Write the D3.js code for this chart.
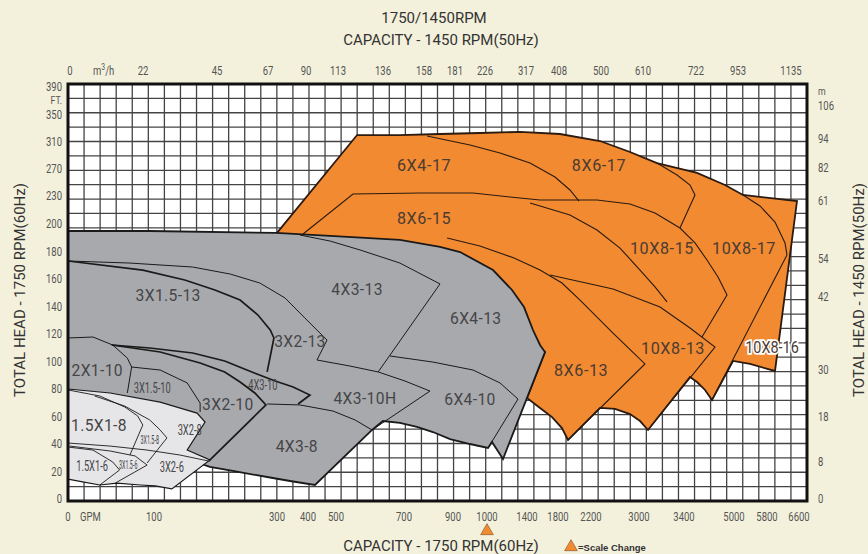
<!DOCTYPE html>
<html>
<head>
<meta charset="utf-8">
<script src="https://cdn.jsdelivr.net/npm/d3@7.9.0/dist/d3.min.js"></script>
<style>
  body { margin: 0; background: #f3f1dc; }
  text { font-family: Roboto, "Open Sans", sans-serif; }
</style>
</head>
<body>
<svg id="chart" width="868" height="554"></svg>
<script>
// ---- axis ticks ----
const gpmTicks = [0, 100, 300, 400, 500, 700, 900, 1000, 1400, 1800, 2200, 3000, 3400, 5000, 5800, 6600];
const m3hTicks = [0, 22, 45, 67, 90, 113, 136, 158, 181, 226, 317, 408, 500, 610, 722, 953, 1135];
const ftTicks = [0, 20, 40, 60, 80, 100, 120, 140, 160, 180, 200, 230, 270, 310, 350, 390];
const mTicks = [0, 8, 18, 30, 42, 54, 61, 82, 94, 106];

// ---- coverage areas, [gpm, ft] ----
const orangeArea = [[300,193.5],[562,319.5],[688,319.5],[847,321],[979,322.5],[1330,324],[1824,321],[2350,310.7],[2850,294.6],[3160,278.4],[3816,263.8],[4712,246.1],[5218,231.5],[6550,224.6],[6000,93.1],[5388,98.2],[4968,100.4],[4296,72],[4072,79.3],[3816,85.1],[3592,88.7],[3080,50.2],[3009,56.7],[2850,61.8],[2600,65.5],[2350,66.2],[1921,42.9],[1848,51.6],[1723,59.6],[1568,66.2],[1400,73.5],[1632,106.9],[1330,122.9],[979,159.3],[688,181.1],[374,184.7]];

const grayArea = [[0,194.9],[95,194.9],[298,193.5],[479,191.3],[688,188.4],[847,183.3],[921,179.6],[1060,166.5],[1250,152],[1370,139.6],[1477,122.9],[1568,112],[1632,106.9],[1160,29.1],[1050,41.5],[1010,37.1],[950,40],[888,43.6],[818,48.7],[753,52.4],[688,55.3],[638,56.7],[606,50.2],[425,10.2],[342,13.1],[284,16],[228,20.4],[191,23.3],[167,26.9],[134,32],[150,50.2],[0,72]];

const lightArea = [[0,80],[49,77.1],[110,70.5],[170,62.5],[183,56],[154,35.6],[191,28.4],[129,7.3],[102,9.5],[84,10.2],[57,11.6],[37,10.2],[17,12.4],[0,14.5]];

// ---- boundary lines between pumps, [gpm, ft] ----
const orangeLines = [
  [[794,318.1],[950,304.9],[1130,293.1],[1439,278.4],[1761,257.9],[1945,238.8],[2055,224.6]],
  [[384,192.7],[550,232.9],[765,234.4],[959,234.4],[1230,228.9],[1568,225.7],[2300,225.7],[2850,221.4],[3142,211.8],[3364,197.1],[3752,186.2],[4136,173.8],[4488,161.5],[4776,148.4],[3976,117.8]],
  [[3160,278.4],[3338,260.8],[3592,246.1],[3752,231.5],[3364,197.1]],
  [[5218,231.5],[5630,219.3],[6000,202.1],[6250,186.2],[6300,177.5],[4296,72]],
  [[876,189.8],[979,184],[1270,175.3],[1568,166.5],[1848,157.1],[2067,144.7],[2567,120.7],[3053,98.2],[1921,42.9]],
  [[1439,222.5],[1945,209.6],[2300,195.6],[2683,182.5],[3009,166.5],[3142,154.2],[3249,143.3]],
  [[1697,162.9],[2567,152.7],[3187,139.6],[3592,124.4],[4392,110.5],[3080,50.2]]
];

const grayLines = [
  [[0,173.1],[72,171.6],[163,168.7],[224,163.6],[272,157.1],[326,146.2],[390,131.6],[468,115.6],[432,101.1]],
  [[374,192],[479,187.6],[571,181.1],[688,171.6],[847,156.4],[624,92.4]],
  [[659,104],[818,99.6],[959,93.8],[1130,84.4],[1310,72.7],[1010,37.1]],
  [[432,101.1],[541,96.7],[624,92.4],[704,85.8],[806,78.5],[606,50.2]],
  [[284,69.1],[374,68.4],[489,64],[556,57.5],[606,50.2]],
  [[0,117.1],[29,117.8],[52,112],[69,102.5],[74,96],[69,77.1]],
  [[74,96],[110,93.8],[154,84.4],[175,69.8],[175,63.3]]
];
const grayLinesBold = [
  [[0,173.1],[87,166.5],[150,159.3],[199,152],[240,144.7],[269,133.8],[289,122.9],[295,117.1],[284,92.4]],
  [[51,112],[95,109.8],[163,106.2],[215,100.4],[251,93.8],[297,85.8],[352,81.5],[407,75.6],[368,69.1]],
  [[51,112],[110,106.9],[175,98.9],[215,92.4],[240,85.1],[264,77.1],[282,68.4],[189,27.6]]
];

const lightLines = [
  [[0,79.3],[37,74.9],[66,66.9],[81,60.4],[87,53.8],[72,32]],
  [[31,74.9],[66,67.6],[95,57.5],[110,50.2],[121,44.4],[92,26.2]],
  [[0,40.7],[49,38.5],[92,35.6],[142,32],[189,27.6]],
  [[2,38.5],[49,34.9],[78,31.3],[92,24.7],[55,11.6]],
  [[0,37.8],[29,35.6],[52,26.9],[60,21.1],[37,10.2]]
];

// ---- pump labels, [name, gpm, ft] ----
const orangeLabels = [["6X4-17",782,275.5],["8X6-17",2333,275.5],["8X6-15",782,206.4],["10X8-15",3204,182.5],["10X8-17",5242,182.5],["10X8-13",3302,109.8],["8X6-13",2080,93.8]];
const haloLabels = [["10X8-16",5925,110.5]];
const grayLabels = [["3X1.5-13",123,148.4],["4X3-13",562,152.7],["6X4-13",967,131.6],["3X2-13",374,114.9],["2X1-10",34,93.8],["3X2-10",220,69.1],["4X3-10H",585,73.5],["6X4-10",950,72.7],["4X3-8",364,38.5],["1.5X1-8",36,53.8]];
const narrowLabels = [["3X1.5-10",98,80.7],["4X3-10",277,82.9],["3X2-8",158,50.2],["1.5X1-6",28,24],["3X2-6",129,23.3]];
const tinyLabels = [["3X1.5-8",95,42.9],["3X1.5-6",70,24.7]];

// ---- layout ----
const W = 868, H = 554;
const plotL = 68, plotR = 807, plotT = 84, plotB = 501;
const nCols = 46, nRows = 29;

const x = d3.scaleLinear()
  .domain([...gpmTicks, 6800])
  .range([68, 154, 277, 308, 336, 404, 453, 487, 527, 558, 591, 639, 684, 734, 767, 799, 807]);
const xTop = d3.scaleLinear()
  .domain(m3hTicks)
  .range([70, 143, 217, 268, 306, 338, 383, 424, 455, 485, 526, 559, 601, 643, 696, 738, 791]);
const y = d3.scaleLinear().domain([0, 200, 230, 390]).range([499, 224, 196, 87]);
const yRight = d3.scaleLinear().domain(mTicks).range([499, 462, 417, 370, 297, 259, 201, 168, 139, 106]);

const svg = d3.select('#chart');
svg.append('rect').attr('width', W).attr('height', H).attr('fill', '#f3f1dc');

// plot background + grid
svg.append('rect')
  .attr('x', plotL).attr('y', plotT)
  .attr('width', plotR - plotL).attr('height', plotB - plotT)
  .attr('fill', '#fff');

const gx = d3.scaleLinear().domain([0, nCols]).range([plotL, plotR]);
const gy = d3.scaleLinear().domain([0, nRows]).range([plotT, plotB]);
const grid = svg.append('g').attr('stroke', '#444').attr('stroke-width', 1.3);
grid.selectAll('line.v').data(d3.range(1, nCols)).join('line')
  .attr('class', 'v')
  .attr('x1', d => gx(d)).attr('x2', d => gx(d))
  .attr('y1', plotT).attr('y2', plotB);
grid.selectAll('line.h').data(d3.range(1, nRows)).join('line')
  .attr('class', 'h')
  .attr('x1', plotL).attr('x2', plotR)
  .attr('y1', d => gy(d)).attr('y2', d => gy(d));

svg.append('clipPath').attr('id', 'plotclip')
  .append('rect').attr('x', plotL).attr('y', plotT)
  .attr('width', plotR - plotL).attr('height', plotB - plotT);
const plot = svg.append('g').attr('clip-path', 'url(#plotclip)');

const area = d3.line().x(d => x(d[0])).y(d => y(d[1])).curve(d3.curveLinearClosed);
const line = d3.line().x(d => x(d[0])).y(d => y(d[1]));

// orange first, then gray, then light on top
plot.append('path').datum(orangeArea).attr('d', area)
  .attr('fill', '#f28a31').attr('stroke', '#2a1a10').attr('stroke-width', 1.8);
plot.append('g').selectAll('path').data(orangeLines).join('path')
  .attr('d', line).attr('fill', 'none').attr('stroke', '#2a1a10').attr('stroke-width', 1.1);

plot.append('path').datum(grayArea).attr('d', area)
  .attr('fill', '#a8a9ad').attr('stroke', '#1a1a1a').attr('stroke-width', 1.8);
plot.append('g').selectAll('path').data(grayLines).join('path')
  .attr('d', line).attr('fill', 'none').attr('stroke', '#1a1a1a').attr('stroke-width', 1);
plot.append('g').selectAll('path').data(grayLinesBold).join('path')
  .attr('d', line).attr('fill', 'none').attr('stroke', '#1a1a1a').attr('stroke-width', 1.7);

plot.append('path').datum(lightArea).attr('d', area)
  .attr('fill', '#e6e6e9').attr('stroke', '#1a1a1a').attr('stroke-width', 1.2);
plot.append('g').selectAll('path').data(lightLines).join('path')
  .attr('d', line).attr('fill', 'none').attr('stroke', '#1a1a1a').attr('stroke-width', 0.9);

// plot border
svg.append('rect')
  .attr('x', plotL).attr('y', plotT)
  .attr('width', plotR - plotL).attr('height', plotB - plotT)
  .attr('fill', 'none').attr('stroke', '#111').attr('stroke-width', 3);

// pump labels
function addLabels(data, size, sx, fill) {
  return svg.append('g').selectAll('text').data(data).join('text')
    .attr('transform', d => `translate(${x(d[1])},${y(d[2])}) scale(${sx},1)`)
    .attr('text-anchor', 'middle').attr('dy', '0.35em')
    .attr('font-size', size).attr('fill', fill)
    .text(d => d[0]);
}
addLabels(orangeLabels, 17, 0.95, '#4a3b33').attr('letter-spacing', 0.6);
addLabels(haloLabels, 16, 0.9, '#4a3b33')
  .attr('stroke', '#fff').attr('stroke-width', 3.5).attr('paint-order', 'stroke');
addLabels(grayLabels, 17, 0.92, '#454547').attr('letter-spacing', 0.4);
addLabels(narrowLabels, 15, 0.62, '#454547');
addLabels(tinyLabels, 12, 0.45, '#454547');

// tick labels
const tickFont = 12.5, tickSx = 0.76, tickFill = '#555';
svg.append('g').selectAll('text').data(gpmTicks).join('text')
  .attr('transform', d => `translate(${x(d)},${521}) scale(${tickSx},1)`)
  .attr('text-anchor', 'middle').attr('font-size', tickFont).attr('fill', tickFill)
  .text(d => d);
svg.append('g').selectAll('text').data(m3hTicks).join('text')
  .attr('transform', d => `translate(${xTop(d)},${75}) scale(${tickSx},1)`)
  .attr('text-anchor', 'middle').attr('font-size', tickFont).attr('fill', tickFill)
  .text(d => d);
svg.append('g').selectAll('text').data(ftTicks).join('text')
  .attr('transform', d => `translate(${62},${y(d)}) scale(${tickSx},1)`)
  .attr('text-anchor', 'end').attr('dy', '0.35em').attr('font-size', tickFont).attr('fill', tickFill)
  .text(d => d);
svg.append('g').selectAll('text').data(mTicks).join('text')
  .attr('transform', d => `translate(${818},${yRight(d)}) scale(${tickSx},1)`)
  .attr('text-anchor', 'start').attr('dy', '0.35em').attr('font-size', tickFont).attr('fill', tickFill)
  .text(d => d);

// unit labels
const unit = (tx, ty, anchor, str, size) => svg.append('text')
  .attr('transform', `translate(${tx},${ty}) scale(${tickSx},1)`)
  .attr('text-anchor', anchor).attr('font-size', size).attr('fill', tickFill).text(str);
unit(80, 521, 'start', 'GPM', tickFont);
unit(62, 104, 'end', 'FT.', 11.5);
unit(818, 95, 'start', 'm', 11.5);
const mh = svg.append('text')
  .attr('transform', `translate(93,75) scale(${tickSx},1)`)
  .attr('font-size', tickFont).attr('fill', tickFill);
mh.append('tspan').text('m');
mh.append('tspan').attr('font-size', 9).attr('dy', -5).text('3');
mh.append('tspan').attr('dy', 5).text('/h');

// titles
const titleSize = 15;
svg.append('text').attr('x', 434).attr('y', 23).attr('text-anchor', 'middle')
  .attr('font-size', titleSize).attr('fill', '#333').text('1750/1450RPM');
svg.append('text').attr('x', 441).attr('y', 45).attr('text-anchor', 'middle')
  .attr('font-size', titleSize).attr('fill', '#333').text('CAPACITY - 1450 RPM(50Hz)');
svg.append('text').attr('x', 441).attr('y', 551).attr('text-anchor', 'middle')
  .attr('font-size', titleSize).attr('fill', '#333').text('CAPACITY - 1750 RPM(60Hz)');
svg.append('text').attr('transform', 'translate(25,290) rotate(-90)').attr('text-anchor', 'middle')
  .attr('font-size', titleSize).attr('fill', '#333').text('TOTAL HEAD - 1750 RPM(60Hz)');
svg.append('text').attr('transform', 'translate(864,290) rotate(-90)').attr('text-anchor', 'middle')
  .attr('font-size', titleSize).attr('fill', '#333').text('TOTAL HEAD - 1450 RPM(50Hz)');

// scale change markers
const tri = d3.symbol().type(d3.symbolTriangle).size(70);
svg.append('path').attr('d', tri).attr('transform', `translate(${x(1000)},531)`)
  .attr('fill', '#f28a31').attr('stroke', '#7a4a20').attr('stroke-width', 0.6);
svg.append('path').attr('d', tri).attr('transform', 'translate(571,547)')
  .attr('fill', '#f28a31').attr('stroke', '#7a4a20').attr('stroke-width', 0.6);
svg.append('text').attr('x', 578).attr('y', 551)
  .attr('font-size', 9.5).attr('font-weight', 'bold').attr('fill', '#333')
  .style('font-family', 'Arial, "Liberation Sans", sans-serif')
  .text('=Scale Change');
</script>
</body>
</html>
